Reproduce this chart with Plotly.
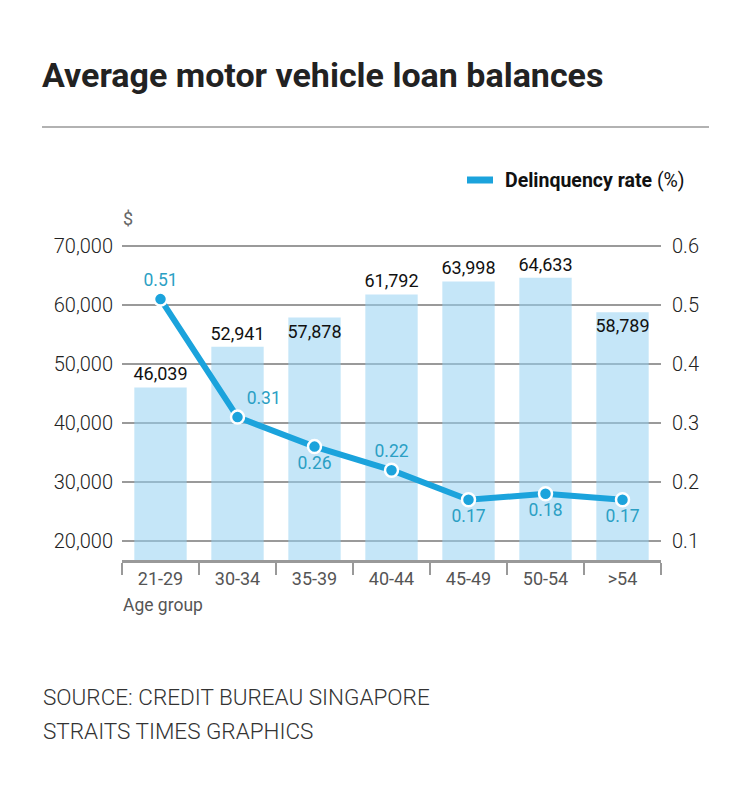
import plotly.graph_objects as go

# data
age_groups = ["21-29", "30-34", "35-39", "40-44", "45-49", "50-54", ">54"]
loan_balance = [46039, 52941, 57878, 61792, 63998, 64633, 58789]
delinquency = [0.51, 0.31, 0.26, 0.22, 0.17, 0.18, 0.17]
left_ticks = [20000, 30000, 40000, 50000, 60000, 70000]
right_ticks = [0.1, 0.2, 0.3, 0.4, 0.5, 0.6]

BAR = "rgba(150,210,242,0.55)"
LINE = "#1ba3dc"
LABEL = "#2b9fc4"

W, H = 750, 809
OFF = 8  # page body margin in the browser
L, R, T, B = 122 - OFF, 89 + OFF, 200 - OFF, 249 + OFF
pw, ph = W - L - R, H - T - B


def px_x(x):
    return (x - OFF - L) / pw


def px_y(y):
    return (H - B - (y - OFF)) / ph


fig = go.Figure()

fig.add_trace(go.Bar(
    x=age_groups, y=loan_balance,
    marker=dict(color=BAR, line=dict(width=0)),
    text=[f"{v:,}" for v in loan_balance],
    textposition=["outside", "outside", "inside", "outside", "outside", "outside", "inside"],
    insidetextanchor="end", textangle=0, constraintext="none",
    textfont=dict(family="Roboto", size=18, color="#111"),
    cliponaxis=False,
    showlegend=False,
))

fig.add_trace(go.Scatter(
    x=age_groups, y=delinquency, yaxis="y2",
    mode="lines+markers+text",
    line=dict(color=LINE, width=6),
    marker=dict(color=LINE, size=13, line=dict(color="white", width=2.5)),
    text=[f"{v:.2f}" for v in delinquency],
    textposition=["top center", "top right", "bottom center", "top center",
                  "bottom center", "bottom center", "bottom center"],
    textfont=dict(family="Roboto", size=17.5, color=LABEL),
    cliponaxis=False,
    showlegend=False,
))

fig.update_layout(
    width=W, height=H,
    margin=dict(l=L, r=R, t=T, b=B),
    paper_bgcolor="white", plot_bgcolor="white",
    bargap=0.32,
    font=dict(family="Roboto", color="#222"),
    xaxis=dict(
        showline=True, linecolor="#999", linewidth=3,
        ticks="outside", tickson="boundaries", ticklen=12, tickwidth=1.5, tickcolor="#999",
        tickfont=dict(family="Roboto", size=18, color="#555"),
        showgrid=False,
    ),
    yaxis=dict(
        range=[16780, 77800], tickvals=left_ticks, tickformat=",",
        showgrid=True, gridcolor="#9a9a9a", gridwidth=1.5,
        zeroline=False, showline=False, ticks="", ticklabelstandoff=8,
        tickfont=dict(family="Roboto", size=20, color="#222", weight=300),
    ),
    yaxis2=dict(
        range=[0.0678, 0.678], tickvals=right_ticks, tickformat=".1f",
        overlaying="y", side="right", showgrid=False, zeroline=False,
        showline=False, ticks="", ticklabelstandoff=10,
        tickfont=dict(family="Roboto", size=20, color="#222", weight=300),
    ),
)

# title, rule, legend, notes
fig.add_annotation(text="<b>Average motor vehicle loan balances</b>", xref="paper", yref="paper",
                   x=px_x(40), y=px_y(75), xanchor="left", yanchor="middle", showarrow=False,
                   font=dict(family="Roboto", size=34, color="#222"))
fig.add_shape(type="line", xref="paper", yref="paper", x0=px_x(42), x1=px_x(709),
              y0=px_y(127), y1=px_y(127), line=dict(color="#999", width=1.5))
fig.add_shape(type="line", xref="paper", yref="paper", x0=px_x(467), x1=px_x(493),
              y0=px_y(180), y1=px_y(180), line=dict(color=LINE, width=7))
fig.add_annotation(text="<b>Delinquency rate</b> (%)", xref="paper", yref="paper",
                   x=px_x(503), y=px_y(180), xanchor="left", yanchor="middle", showarrow=False,
                   font=dict(family="Roboto", size=19.5, color="#111"))
fig.add_annotation(text="$", xref="paper", yref="paper",
                   x=px_x(121), y=px_y(218), xanchor="left", yanchor="middle", showarrow=False,
                   font=dict(family="Roboto", size=18, color="#666"))
fig.add_annotation(text="Age group", xref="paper", yref="paper",
                   x=px_x(121), y=px_y(605), xanchor="left", yanchor="middle", showarrow=False,
                   font=dict(family="Roboto", size=17.5, color="#555"))
fig.add_annotation(text="SOURCE: CREDIT BUREAU SINGAPORE", xref="paper", yref="paper",
                   x=px_x(41), y=px_y(697), xanchor="left", yanchor="middle", showarrow=False,
                   font=dict(family="Roboto", size=22.5, color="#333", weight=300))
fig.add_annotation(text="STRAITS TIMES GRAPHICS", xref="paper", yref="paper",
                   x=px_x(41), y=px_y(731), xanchor="left", yanchor="middle", showarrow=False,
                   font=dict(family="Roboto", size=22.5, color="#333", weight=300))

fig.write_html("out.html")
